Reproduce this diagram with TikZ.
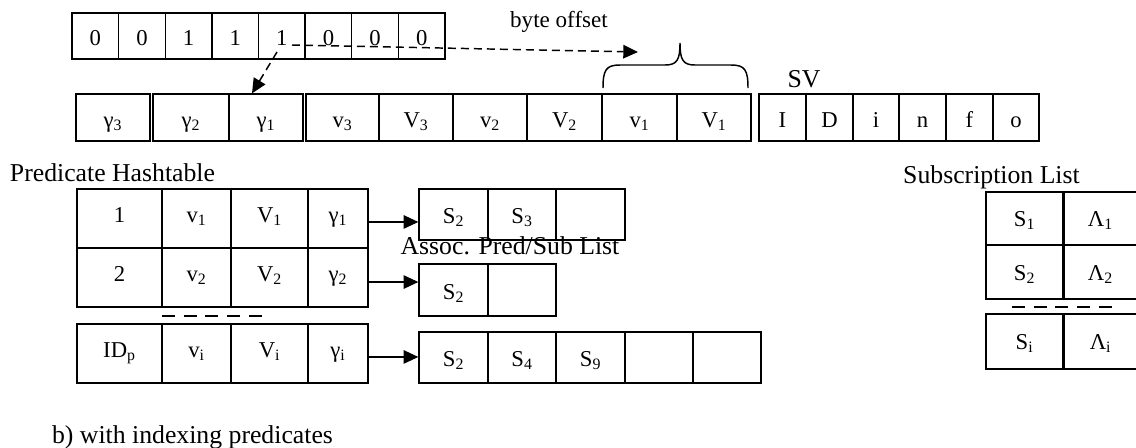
\documentclass[tikz,border=0pt]{standalone}
\usepackage{fontspec}
\setmainfont{Liberation Serif}
\usetikzlibrary{arrows.meta}
\newcommand\cellfont{\fontsize{17}{20}\selectfont}
\newcommand\lblfont{\fontsize{19.3}{22}\selectfont}
\newcommand\smlfont{\fontsize{17.3}{20}\selectfont}
\newcommand\mkcell[7][]{\node[cell,#1,minimum width={(#4-#3)*0.75pt},minimum height={(#6-#5)*0.75pt}] (#2) at ({(#3+#4)/2},{(#5+#6)/2}) {#7};}
\newcommand\sbs[1]{\textsubscript{#1}}
\begin{document}
\begin{tikzpicture}[x=0.75pt,y=-0.75pt,
 cell/.style={draw,line width=0.95pt,inner sep=0pt,font=\cellfont},
 bl/.style={text height=#1,text depth=0pt},
 lbl/.style={inner sep=0pt,anchor=base,font=\lblfont},
 conn/.style={line width=1.1pt,-{Triangle[length=11pt,width=10pt]}},
 dconn/.style={conn,dash pattern=on 6pt off 3.75pt},
 sepline/.style={line width=1.1pt,dash pattern=on 9.75pt off 6.5pt}]
\clip (0,0) rectangle (1136,447);
% bit vector
\mkcell[bl=13.5pt]{b1}{72}{118.6}{13}{59}{0}
\mkcell[bl=13.5pt]{b2}{118.6}{165.3}{13}{59}{0}
\mkcell[bl=13.5pt]{b3}{165.3}{211.9}{13}{59}{1}
\mkcell[bl=13.5pt]{b4}{211.9}{258.5}{13}{59}{1}
\mkcell[bl=13.5pt]{b5}{258.5}{305.1}{13}{59}{1}
\mkcell[bl=13.5pt]{b6}{305.1}{351.8}{13}{59}{0}
\mkcell[bl=13.5pt]{b7}{351.8}{398.4}{13}{59}{0}
\mkcell[bl=13.5pt]{b8}{398.4}{445}{13}{59}{0}
% second row
\mkcell[bl=14.25pt]{g3}{76}{150}{94}{141}{γ\sbs{3}}
\mkcell[bl=14.25pt]{g2}{153}{229}{94}{141}{γ\sbs{2}}
\mkcell[bl=14.25pt]{g1}{229}{303}{94}{141}{γ\sbs{1}}
\mkcell[bl=14.25pt]{lv3}{306}{379}{94}{141}{v\sbs{3}}
\mkcell[bl=14.25pt]{uV3}{379}{453}{94}{141}{V\sbs{3}}
\mkcell[bl=14.25pt]{lv2}{453}{527}{94}{141}{v\sbs{2}}
\mkcell[bl=14.25pt]{uV2}{527}{602}{94}{141}{V\sbs{2}}
\mkcell[bl=14.25pt]{lv1}{602}{677}{94}{141}{v\sbs{1}}
\mkcell[bl=14.25pt]{uV1}{677}{751}{94}{141}{V\sbs{1}}
\mkcell[bl=14.25pt]{sv1}{759}{806}{94}{141}{I}
\mkcell[bl=14.25pt]{sv2}{806}{853}{94}{141}{D}
\mkcell[bl=14.25pt]{sv3}{853}{899}{94}{141}{i}
\mkcell[bl=14.25pt]{sv4}{899}{946}{94}{141}{n}
\mkcell[bl=14.25pt]{sv5}{946}{993}{94}{141}{f}
\mkcell[bl=14.25pt]{sv6}{993}{1039}{94}{141}{o}
% labels
\node[lbl] (bo) at (559,27) {\smlfont byte offset};
\node[lbl] (svl) at (804,87) {SV};
\node[lbl] (phl) at (112.5,181) {Predicate Hashtable};
\node[lbl] (sll) at (991.5,183) {Subscription List};
\node[lbl] (cap) at (192.5,443) {b) with indexing predicates};
% offset arrows
\coordinate (os) at (292,45);
\coordinate (ot) at (638,52);
\draw[dconn] (os) -- (ot);
\coordinate (ds) at (277,52);
\draw[dconn] (ds) -- (g1.north west -| 252,0);
% brace
\draw[line width=1.1pt] (603,88) .. controls (603,70) and (606,65) .. (620,65) -- (665,65) .. controls (677,65) and (680,60) .. (680,43)
  .. controls (680,60) and (683,65) .. (695,65) -- (731,65) .. controls (745,65) and (748,70) .. (748,88);
% predicate hashtable
\mkcell[bl=6pt]{h11}{77}{162}{189}{248}{1}
\mkcell[bl=6pt]{h12}{162}{231}{189}{248}{v\sbs{1}}
\mkcell[bl=6pt]{h13}{231}{308}{189}{248}{V\sbs{1}}
\mkcell[bl=6pt]{h14}{308}{368}{189}{248}{γ\sbs{1}}
\mkcell[bl=6pt]{h21}{77}{162}{248}{307}{2}
\mkcell[bl=6pt]{h22}{162}{231}{248}{307}{v\sbs{2}}
\mkcell[bl=6pt]{h23}{231}{308}{248}{307}{V\sbs{2}}
\mkcell[bl=6pt]{h24}{308}{368}{248}{307}{γ\sbs{2}}
\mkcell[bl=6pt]{h31}{77}{162}{324}{383}{ID\sbs{p}}
\mkcell[bl=6pt]{h32}{162}{231}{324}{383}{v\sbs{i}}
\mkcell[bl=6pt]{h33}{231}{308}{324}{383}{V\sbs{i}}
\mkcell[bl=6pt]{h34}{308}{368}{324}{383}{γ\sbs{i}}
\draw[sepline] (162,316) -- (262,316);
% assoc lists
\mkcell[bl=13.5pt]{a11}{419}{488}{189}{240}{S\sbs{2}}
\mkcell[bl=13.5pt]{a12}{488}{556}{189}{240}{S\sbs{3}}
\mkcell[bl=13.5pt]{a13}{556}{625}{189}{240}{}
\mkcell[bl=13.5pt]{a21}{419}{488}{264}{316}{S\sbs{2}}
\mkcell[bl=13.5pt]{a22}{488}{556}{264}{316}{}
\mkcell[bl=13.5pt]{a31}{419}{488}{332}{383}{S\sbs{2}}
\mkcell[bl=13.5pt]{a32}{488}{556}{332}{383}{S\sbs{4}}
\mkcell[bl=13.5pt]{a33}{556}{625}{332}{383}{S\sbs{9}}
\mkcell[bl=13.5pt]{a34}{625}{693}{332}{383}{}
\mkcell[bl=13.5pt]{a35}{693}{761}{332}{383}{}
\node[lbl] (apl) at (510,254) {Assoc. Pred/Sub List};
% connectors
\path ([yshift=-2.6pt]h14.east) coordinate (p1);
\path ([yshift=-3.4pt]h24.east) coordinate (p2);
\path ([yshift=-2.6pt]h34.east) coordinate (p3);
\draw[conn] (p1) -- (p1 -| a11.west);
\draw[conn] (p2) -- (p2 -| a21.west);
\draw[conn] (p3) -- (p3 -| a31.west);
% subscription list
\mkcell[bl=12pt]{s11}{986}{1063}{192}{245}{S\sbs{1}}
\mkcell[bl=12pt]{s12}{1063}{1138}{192}{245}{Λ\sbs{1}}
\mkcell[bl=12pt]{s21}{986}{1063}{245}{299}{S\sbs{2}}
\mkcell[bl=12pt]{s22}{1063}{1138}{245}{299}{Λ\sbs{2}}
\mkcell[bl=12pt]{s31}{986}{1063}{314}{369}{S\sbs{i}}
\mkcell[bl=12pt]{s32}{1063}{1138}{314}{369}{Λ\sbs{i}}
\draw[line width=1.8pt] (s11.north east) -- (s21.south east);
\draw[line width=1.8pt] (s31.north east) -- (s31.south east);
\draw[sepline] (1012,307) -- (1112,307);
\end{tikzpicture}
\end{document}
